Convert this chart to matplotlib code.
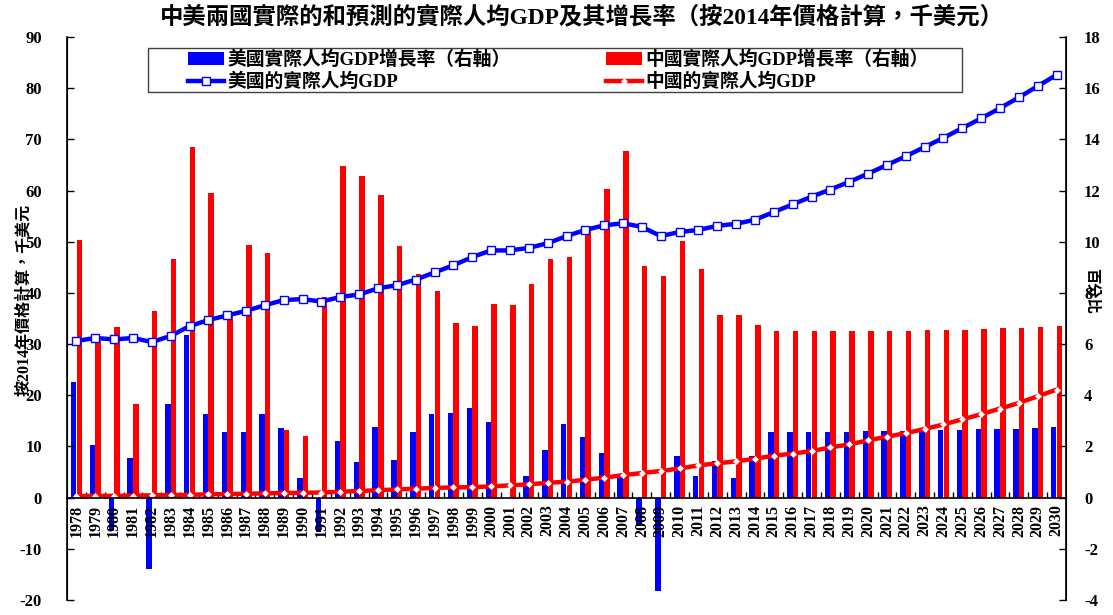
import numpy as np
import matplotlib
matplotlib.use("Agg")
import matplotlib.pyplot as plt
from matplotlib.patches import Rectangle
from matplotlib.ticker import FixedLocator

plt.rcParams['font.family'] = ['Liberation Serif', 'Noto Sans CJK TC']
plt.rcParams['font.weight'] = 'bold'
plt.rcParams['axes.unicode_minus'] = False

years = [str(y) for y in range(1978, 2031)]

# 千美元 (left axis)
us_gdp = [30.6, 31.2, 30.9, 31.2, 30.4, 31.6, 33.5, 34.7, 35.6, 36.5,
          37.6, 38.6, 38.8, 38.3, 39.2, 39.7, 40.9, 41.5, 42.6, 44.0,
          45.4, 47.0, 48.3, 48.3, 48.8, 49.7, 51.1, 52.3, 53.2, 53.6,
          52.9, 51.1, 51.9, 52.3, 53.1, 53.5, 54.3, 55.8, 57.3, 58.8,
          60.2, 61.7, 63.3, 65.0, 66.7, 68.5, 70.3, 72.2, 74.1, 76.1,
          78.2, 80.4, 82.6]
cn_gdp = [0.3, 0.35, 0.35, 0.4, 0.45, 0.5, 0.55, 0.65, 0.7, 0.75,
          0.85, 0.9, 0.95, 1.0, 1.15, 1.3, 1.45, 1.6, 1.75, 1.9,
          2.0, 2.05, 2.2, 2.4, 2.6, 2.9, 3.1, 3.5, 3.9, 4.4,
          4.8, 5.2, 5.7, 6.3, 6.7, 7.1, 7.6, 8.2, 8.6, 9.1,
          9.8, 10.4, 11.2, 11.9, 12.6, 13.4, 14.3, 15.3, 16.3, 17.4,
          18.5, 19.8, 21.1]

# 百分比 (right axis)
us_growth = [4.5, 2.07, -1.3, 1.56, -2.8, 3.66, 6.34, 3.27, 2.58, 2.58,
             3.27, 2.72, 0.77, -1.36, 2.21, 1.38, 2.76, 1.48, 2.58, 3.27,
             3.31, 3.52, 2.97, 0.0, 0.83, 1.85, 2.86, 2.37, 1.74, 0.8,
             -1.1, -3.63, 1.64, 0.83, 1.45, 0.77, 1.64, 2.58, 2.58, 2.58,
             2.58, 2.58, 2.62, 2.62, 2.62, 2.64, 2.66, 2.66, 2.69, 2.69,
             2.69, 2.73, 2.77]
cn_growth = [10.08, 6.13, 6.65, 3.66, 7.28, 9.32, 13.71, 11.89, 7.1, 9.86,
             9.57, 2.64, 2.42, 7.85, 12.97, 12.58, 11.82, 9.82, 8.74, 8.09,
             6.81, 6.71, 7.57, 7.53, 8.36, 9.34, 9.41, 10.6, 12.06, 13.54,
             9.05, 8.65, 10.04, 8.95, 7.14, 7.14, 6.75, 6.52, 6.52, 6.52,
             6.52, 6.52, 6.52, 6.52, 6.52, 6.55, 6.55, 6.55, 6.59, 6.63,
             6.63, 6.67, 6.71]

x = np.arange(len(years))

fig = plt.figure(figsize=(11.13, 6.15), dpi=100)
ax = fig.add_axes([67 / 1113, 1 - 600 / 615, 999 / 1113, 563 / 615])
ax2 = ax.twinx()

# bars go on the right axis, lines on the left axis drawn above them
ax2.bar(x - 0.15, us_growth, width=0.29, color='#0000FF', label='美國實際人均GDP增長率（右軸）')
ax2.bar(x + 0.15, cn_growth, width=0.29, color='#FF0000', label='中國實際人均GDP增長率（右軸）')

ax.set_zorder(ax2.get_zorder() + 1)
ax.patch.set_visible(False)

ax.plot(x, us_gdp, color='#0000FF', lw=3.2, marker='s', ms=6,
        mfc='white', mec='#0000FF', mew=1, label='美國的實際人均GDP')
ax.plot(x, cn_gdp, color='#FF0000', lw=3.2, marker='D', ms=3,
        mfc='white', mec='white', mew=0.5, label='中國的實際人均GDP')

ax.set_xlim(-0.5, len(years) - 0.5)
ax.set_ylim(-20, 90)
ax2.set_ylim(-4, 18)
ax.set_yticks(np.arange(-20, 91, 10))
ax2.set_yticks(np.arange(-4, 19, 2))

for a in (ax, ax2):
    a.spines['top'].set_visible(False)
    a.spines['bottom'].set_visible(False)
ax.spines['bottom'].set_visible(True)
ax.spines['bottom'].set_position(('data', 0))
ax.spines['left'].set_linewidth(1.2)
ax2.spines['right'].set_linewidth(1.2)
ax.spines['bottom'].set_linewidth(1.2)

ax.set_xticks(x)
ax.set_xticklabels(years, rotation=90)
ax.xaxis.set_minor_locator(FixedLocator(x[1:] - 0.5))
ax.tick_params(axis='x', which='major', length=0, pad=5, labelsize=11.5)
ax.tick_params(axis='x', which='minor', direction='in', length=4, width=1)
ax.tick_params(axis='y', direction='in', length=5, width=1, pad=18, labelsize=12)
ax2.tick_params(axis='y', direction='in', length=5, width=1, pad=13, labelsize=12)

fig.text(0.523, 1 - 17 / 615, '中美兩國實際的和預測的實際人均GDP及其增長率（按2014年價格計算，千美元）',
         ha='center', va='center', fontsize=16.8, fontweight='bold')
fig.text(24 / 1113, 1 - 300 / 615, '按2014年價格計算，千美元', rotation=90,
         ha='center', va='center', fontsize=11.5, fontweight='bold')
fig.text(1091 / 1113, 1 - 291 / 615, '百分比', rotation=270,
         ha='center', va='center', fontsize=11, fontweight='bold')

h1, l1 = ax2.get_legend_handles_labels()
h2, l2 = ax.get_legend_handles_labels()
handles = [h1[0], h2[0], h1[1], h2[1]]
labels = [l1[0], l2[0], l1[1], l2[1]]
fig.legend(handles, labels, ncol=2, frameon=False, loc='center left',
           bbox_to_anchor=(188 / 1113, 1 - 71 / 615), borderpad=0, borderaxespad=0,
           handlelength=1.9, handletextpad=0.2, columnspacing=5.1,
           labelspacing=0.22, prop={'size': 13.5, 'weight': 'bold'})
fig.patches.append(Rectangle((148 / 1113, 1 - 92 / 615), 814 / 1113, 44 / 615,
                             transform=fig.transFigure, fill=False,
                             edgecolor='#404040', lw=1))

fig.savefig('out.png', dpi=100)
